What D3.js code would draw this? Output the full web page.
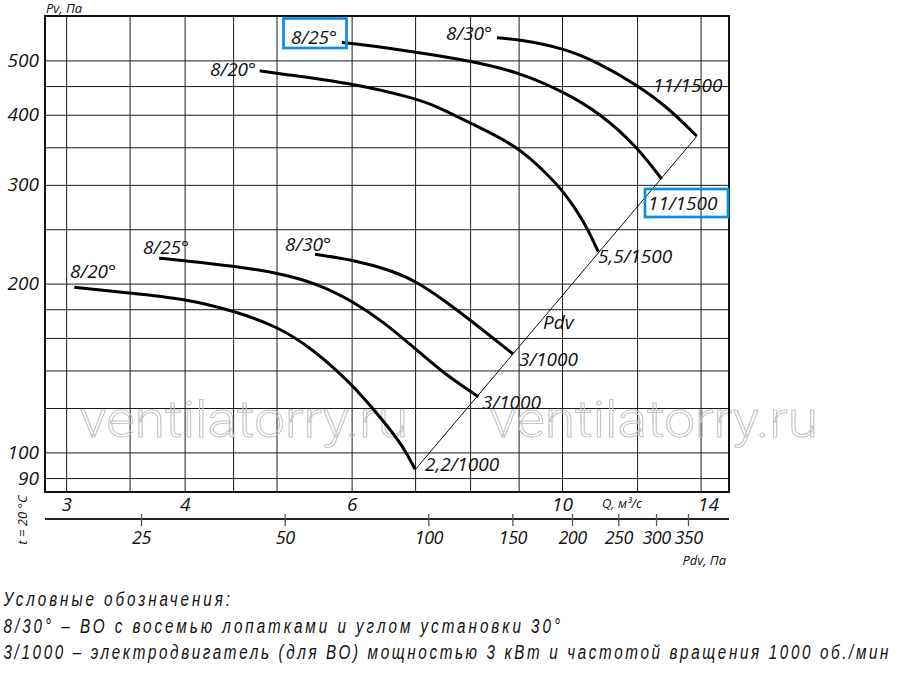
<!DOCTYPE html>
<html>
<head>
<meta charset="utf-8">
<script src="https://cdn.jsdelivr.net/npm/d3@7"></script>
<style>
  body { margin: 0; background: #fff; }
</style>
</head>
<body>
<div id="chart"></div>
<script>
// Axis ticks and grid
const qTicks = [3, 4, 6, 10, 14];
const qGrid = [3, 3.5, 4, 4.5, 5, 6, 7, 8, 9, 10, 12, 14];
const pvTicks = [90, 100, 200, 300, 400, 500];
const pvGrid = [90, 100, 120, 140, 160, 180, 200, 250, 300, 350, 400, 450, 500];
const pdvTicks = [25, 50, 100, 150, 200, 250, 300, 350];

// 1000 rpm curves (Q, м³/с ; Pv, Па)
const q1000_20 = [3.06, 3.50, 4.00, 4.50, 5.02, 5.42, 5.79, 6.03, 6.48, 6.80, 7.00];
const pv1000_20 = [197, 192.5, 188, 179, 167.5, 154, 140, 131, 114, 102.5, 93.3];
const q1000_25 = [3.76, 4.00, 4.50, 5.02, 5.51, 6.03, 6.48, 7.03, 7.50, 8.16];
const pv1000_25 = [222, 219.7, 215, 209, 200.3, 185.7, 171, 152.3, 138.4, 125.7];
const q1000_30 = [5.49, 6.03, 6.59, 7.03, 7.50, 8.01, 8.88];
const pv1000_30 = [225.6, 220.4, 211.5, 201.6, 187, 172, 149.8];

// 1500 rpm curves
const q1500_20 = [4.80, 5.01, 6.03, 7.00, 7.38, 8.01, 8.96, 9.71, 10.03, 10.53, 10.92];
const pv1500_20 = [479, 474, 455, 428, 414, 386, 353, 310, 292, 260, 228];
const q1500_25 = [5.86, 6.03, 7.00, 8.01, 8.99, 10.03, 10.97, 12.00, 12.74];
const pv1500_25 = [538, 536, 518, 499, 477, 440, 402.5, 351, 307];
const q1500_30 = [8.54, 8.99, 10.03, 10.88, 12.00, 12.89, 13.87];
const pv1500_30 = [549, 545, 526, 497, 452, 414, 366.6];

// Pdv line (end points)
const pdvLineQ = [7.0, 13.87];
const pdvLinePv = [93.1, 366];

const curves = [
  [q1000_20, pv1000_20], [q1000_25, pv1000_25], [q1000_30, pv1000_30],
  [q1500_20, pv1500_20], [q1500_25, pv1500_25], [q1500_30, pv1500_30]
];

// Curve annotations (left x, baseline y)
const labels = [
  { t: "8/20°", x: 210, y: 76 },
  { t: "8/25°", x: 291, y: 44, box: [283.5, 18.5, 63, 29.5] },
  { t: "8/30°", x: 446, y: 40 },
  { t: "11/1500", x: 653, y: 92 },
  { t: "11/1500", x: 648, y: 210, box: [645, 189, 83, 28] },
  { t: "5,5/1500", x: 598, y: 263 },
  { t: "8/20°", x: 70, y: 278 },
  { t: "8/25°", x: 143, y: 254 },
  { t: "8/30°", x: 285, y: 251 },
  { t: "Pdv", x: 543, y: 329 },
  { t: "3/1000", x: 519, y: 366 },
  { t: "3/1000", x: 482, y: 409 },
  { t: "2,2/1000", x: 425, y: 471 }
];

const legendLines = [
  "Условные обозначения:",
  "8/30° – ВО с восемью лопатками и углом установки 30°",
  "3/1000 – электродвигатель (для ВО) мощностью 3 кВт и частотой вращения 1000 об./мин"
];

// Dimensions
const W = 900, H = 682;
const plotL = 45, plotR = 729, plotT = 16, plotB = 492;
const FONT = "'Open Sans', 'Noto Sans', sans-serif";

const svg = d3.select("#chart").append("svg")
  .attr("width", W).attr("height", H);

const x = d3.scaleLog().domain([2.85, 15.0]).range([plotL, plotR]);
const y = d3.scaleLog().domain([85, 600]).range([plotB, plotT]);
const xPdv = d3.scaleLog().domain([25, 350]).range([141, 688]);

function styleText(sel, size) {
  sel.style("font-family", FONT).style("font-style", "italic")
    .style("font-size", size + "px").style("fill", "#111");
}

// Grid
const gx = svg.append("g")
  .attr("transform", `translate(0,${plotB})`)
  .call(d3.axisBottom(x).tickValues(qGrid).tickSize(-(plotB - plotT)).tickFormat(""));
gx.select(".domain").remove();
const gy = svg.append("g")
  .attr("transform", `translate(${plotL},0)`)
  .call(d3.axisLeft(y).tickValues(pvGrid).tickSize(-(plotR - plotL)).tickFormat(""));
gy.select(".domain").remove();
svg.selectAll(".tick line").attr("stroke", "#1a1a1a").attr("stroke-width", 1);

// Watermark
[80, 490].forEach(wx => {
  svg.append("text")
    .attr("x", wx).attr("y", 437)
    .attr("textLength", 328).attr("lengthAdjust", "spacingAndGlyphs")
    .style("font-family", "Roboto, 'Noto Sans', sans-serif")
    .style("font-size", "50px").style("font-weight", 300)
    .style("fill", "none").style("stroke", "#c4c4c4").style("stroke-width", 1)
    .text("ventilatorry.ru");
});

// Frame
svg.append("rect")
  .attr("x", plotL).attr("y", plotT)
  .attr("width", plotR - plotL).attr("height", plotB - plotT)
  .attr("fill", "none").attr("stroke", "#111").attr("stroke-width", 2);

// Tick labels
const ax = svg.append("g")
  .attr("transform", `translate(0,${plotB})`)
  .call(d3.axisBottom(x).tickValues(qTicks).tickSize(0).tickPadding(5).tickFormat(d3.format("d")));
ax.select(".domain").remove();
styleText(ax.selectAll("text"), 19);
ax.selectAll(".tick text").filter(d => d === 14).attr("text-anchor", "start").attr("dx", -3);

const ay = svg.append("g")
  .attr("transform", `translate(${plotL},0)`)
  .call(d3.axisLeft(y).tickValues(pvTicks).tickSize(0).tickPadding(6).tickFormat(d3.format("d")));
ay.select(".domain").remove();
styleText(ay.selectAll("text"), 19);

// Pdv axis
svg.append("line")
  .attr("x1", plotL).attr("x2", plotR).attr("y1", 519).attr("y2", 519)
  .attr("stroke", "#222").attr("stroke-width", 2);
const ap = svg.append("g")
  .attr("transform", "translate(0,514)")
  .call(d3.axisBottom(xPdv).tickValues(pdvTicks).tickSize(12).tickPadding(5).tickFormat(d3.format("d")));
ap.select(".domain").remove();
ap.selectAll(".tick line").attr("stroke", "#555").attr("stroke-width", 1.3);
styleText(ap.selectAll("text"), 18);
ap.selectAll("text").style("letter-spacing", "-0.5px");

// Axis titles
const t1 = svg.append("text").attr("x", 46).attr("y", 13).text("Pv, Па");
const t2 = svg.append("text").attr("x", 602).attr("y", 508).text("Q, м³/с");
const t3 = svg.append("text").attr("x", 726).attr("y", 565)
  .attr("text-anchor", "end").text("Pdv, Па");
const t4 = svg.append("text")
  .attr("transform", "translate(27,520) rotate(-90)")
  .attr("text-anchor", "middle").text("t = 20 °C");
[t1, t2, t3, t4].forEach(t => styleText(t, 13));

// Pdv line
const line = d3.line()
  .x(d => x(d[0]))
  .y(d => y(d[1]));
svg.append("path")
  .datum(d3.zip(pdvLineQ, pdvLinePv))
  .attr("d", line)
  .attr("fill", "none").attr("stroke", "#111").attr("stroke-width", 1);

// Curves
const smooth = d3.line()
  .x(d => x(d[0]))
  .y(d => y(d[1]))
  .curve(d3.curveBasis);
svg.selectAll(".curve")
  .data(curves)
  .enter().append("path")
  .attr("class", "curve")
  .attr("d", c => smooth(d3.zip(c[0], c[1])))
  .attr("fill", "none").attr("stroke", "#000").attr("stroke-width", 3);

// Curve labels
labels.forEach(l => {
  styleText(svg.append("text").attr("x", l.x).attr("y", l.y).text(l.t), 19);
  if (l.box) {
    svg.append("rect")
      .attr("x", l.box[0]).attr("y", l.box[1])
      .attr("width", l.box[2]).attr("height", l.box[3])
      .attr("fill", "none").attr("stroke", "#0a8fe0").attr("stroke-width", 2.7);
  }
});

// Legend (narrow italic with wide spacing)
const legendY = [605.5, 633, 659];
const legendW = [226.5, 556.5, 885];
const squeeze = 0.78;
legendLines.forEach((t, i) => {
  svg.append("g")
    .attr("transform", `translate(3.5,${legendY[i]}) scale(${squeeze},1)`)
    .append("text")
    .attr("x", 0).attr("y", 0)
    .attr("textLength", legendW[i] / squeeze).attr("lengthAdjust", "spacing")
    .style("font-family", "'Liberation Sans', Arial, sans-serif")
    .style("font-style", "italic").style("font-size", "19.5px").style("fill", "#111")
    .text(t);
});
</script>
</body>
</html>
